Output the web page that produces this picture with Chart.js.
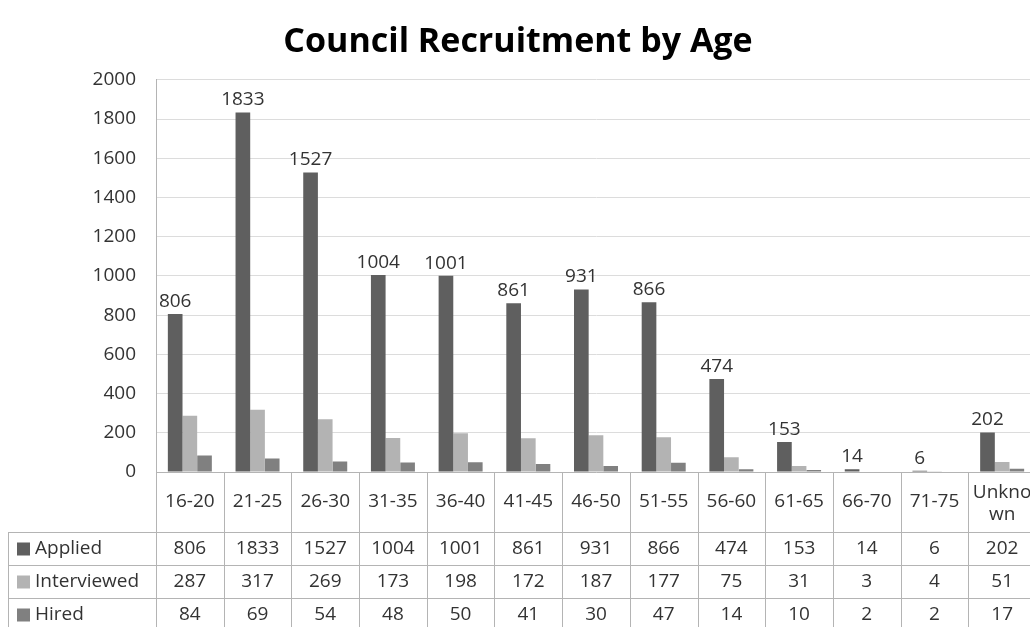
<!DOCTYPE html>
<html>
<head>
<meta charset="utf-8">
<script src="https://cdn.jsdelivr.net/npm/chart.js@4.4.1/dist/chart.umd.min.js"></script>
<style>
  html, body { margin: 0; padding: 0; background: #fff; overflow: hidden; }
  #wrap { width: 1036px; height: 627px; }
</style>
</head>
<body>
<div id="wrap"><canvas id="c" width="1036" height="627"></canvas></div>
<script>
const categories = ['16-20', '21-25', '26-30', '31-35', '36-40', '41-45', '46-50', '51-55', '56-60', '61-65', '66-70', '71-75', ['Unkno', 'wn']];
const applied = [806, 1833, 1527, 1004, 1001, 861, 931, 866, 474, 153, 14, 6, 202];
const interviewed = [287, 317, 269, 173, 198, 172, 187, 177, 75, 31, 3, 4, 51];
const hired = [84, 69, 54, 48, 50, 41, 30, 47, 14, 10, 2, 2, 17];

const FONT = '"Open Sans", Lato, sans-serif';
const TEXT = '#333333';
const LINE = '#b4b4b4';
const SIZE = 19;

const seriesColors = { Applied: '#5f5f5f', Interviewed: '#b3b3b3', Hired: '#808080' };

// labels over the Applied bars
const valueLabels = {
    id: 'valueLabels',
    afterDatasetsDraw(chart) {
        const ctx = chart.ctx;
        const meta = chart.getDatasetMeta(0);
        ctx.save();
        ctx.font = SIZE + 'px ' + FONT;
        ctx.fillStyle = TEXT;
        ctx.textAlign = 'center';
        ctx.textBaseline = 'bottom';
        meta.data.forEach((bar, i) => {
            ctx.fillText(String(applied[i]), bar.x, bar.y - 3);
        });
        ctx.restore();
    },
};

// data table under the plot
const dataTable = {
    id: 'dataTable',
    afterDraw(chart) {
        const ctx = chart.ctx;
        const x = chart.scales.x;
        const area = chart.chartArea;
        const top = area.bottom;
        const headH = 60, rowH = 33;
        const step = x.getPixelForValue(1) - x.getPixelForValue(0);
        const rows = [
            { name: 'Applied', vals: applied },
            { name: 'Interviewed', vals: interviewed },
            { name: 'Hired', vals: hired },
        ];
        const tableLeft = 8;
        const bottom = top + headH + rowH * rows.length;

        ctx.save();
        ctx.strokeStyle = LINE;
        ctx.lineWidth = 1;
        ctx.beginPath();
        // column separators
        for (let i = 0; i <= categories.length; i++) {
            const px = Math.round(area.left + step * i) + 0.5;
            ctx.moveTo(px, top);
            ctx.lineTo(px, bottom);
        }
        // row separators
        for (let r = 0; r <= rows.length; r++) {
            const py = Math.round(top + headH + rowH * r) + 0.5;
            ctx.moveTo(tableLeft, py);
            ctx.lineTo(chart.width, py);
        }
        ctx.moveTo(tableLeft + 0.5, top + headH);
        ctx.lineTo(tableLeft + 0.5, bottom);
        ctx.stroke();

        ctx.font = SIZE + 'px ' + FONT;
        ctx.fillStyle = TEXT;
        ctx.textAlign = 'center';
        ctx.textBaseline = 'middle';
        categories.forEach((c, i) => {
            const cx = x.getPixelForValue(i);
            if (Array.isArray(c)) {
                ctx.fillText(c[0], cx, top + headH / 2 - 9);
                ctx.fillText(c[1], cx, top + headH / 2 + 13);
            } else {
                ctx.fillText(c, cx, top + headH / 2);
            }
        });

        rows.forEach((row, r) => {
            const cy = top + headH + rowH * r + rowH / 2;
            ctx.fillStyle = seriesColors[row.name];
            ctx.fillRect(tableLeft + 9, cy - 6, 13, 13);
            ctx.fillStyle = TEXT;
            ctx.textAlign = 'left';
            ctx.fillText(row.name, tableLeft + 27, cy);
            ctx.textAlign = 'center';
            row.vals.forEach((v, i) => {
                ctx.fillText(String(v), x.getPixelForValue(i), cy);
            });
        });
        ctx.restore();
    },
};

new Chart(document.getElementById('c'), {
    type: 'bar',
    data: {
        labels: categories,
        datasets: [
            { label: 'Applied', data: applied, backgroundColor: seriesColors.Applied },
            { label: 'Interviewed', data: interviewed, backgroundColor: seriesColors.Interviewed },
            { label: 'Hired', data: hired, backgroundColor: seriesColors.Hired },
        ],
    },
    options: {
        responsive: false,
        animation: false,
        layout: { padding: { left: 0, right: 0, top: 0, bottom: 155 } },
        datasets: { bar: { categoryPercentage: 0.65, barPercentage: 1.0 } },
        plugins: {
            legend: { display: false },
            tooltip: { enabled: false },
            title: {
                display: true,
                text: 'Council Recruitment by Age',
                color: '#000',
                font: { family: FONT, size: 34, weight: 'bold' },
                padding: { top: 22, bottom: 17 },
            },
        },
        scales: {
            x: {
                ticks: { display: false },
                grid: { display: false, drawTicks: false },
                border: { display: true, color: LINE },
            },
            y: {
                min: 0,
                max: 2000,
                ticks: {
                    stepSize: 200,
                    color: TEXT,
                    font: { family: FONT, size: SIZE },
                    padding: 20,
                    callback: v => String(v),
                },
                grid: { color: '#dcdcdc', drawTicks: false },
                border: { display: true, color: LINE },
                afterFit(scale) { scale.width = 156; },
            },
        },
    },
    plugins: [valueLabels, dataTable],
});
</script>
</body>
</html>
